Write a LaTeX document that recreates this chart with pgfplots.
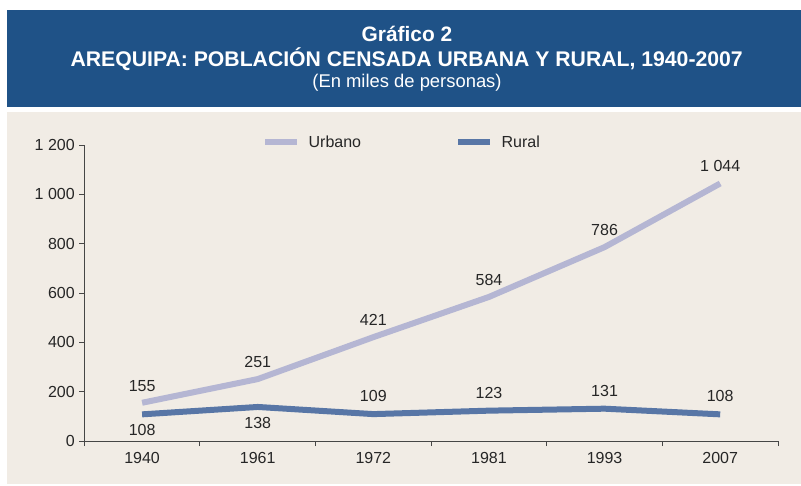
\documentclass[border=0pt]{standalone}
\usepackage{fontspec}
\setmainfont{Liberation Sans}
\usepackage{pgfplots}
\pgfplotsset{compat=1.18}
\definecolor{hdr}{RGB}{31,82,135}
\definecolor{bg}{RGB}{241,236,229}
\definecolor{urb}{RGB}{181,182,211}
\definecolor{rur}{RGB}{88,118,166}
\definecolor{txt}{RGB}{38,38,38}
\definecolor{axc}{RGB}{70,70,70}
\begin{document}
\begin{tikzpicture}[x=1pt,y=1pt]
\path[use as bounding box, fill=white] (0,0) rectangle (801,485);
\fill[hdr] (7,378) rectangle (801,475);
\fill[bg] (7,1) rectangle (801,373);
\node[anchor=base, text=white, font=\fontsize{20.9}{24}\selectfont\bfseries] at (407,443.3) {Gráfico 2};
\node[anchor=base, text=white, font=\fontsize{21.2}{24}\selectfont\bfseries] at (406.7,418.3) {AREQUIPA: POBLACIÓN CENSADA URBANA Y RURAL, 1940-2007};
\node[anchor=base, text=white, font=\fontsize{18.4}{21}\selectfont] at (407,397) {(En miles de personas)};
\begin{axis}[
  at={(84.3pt,44pt)}, anchor=south west,
  scale only axis, width=693.7pt, height=296pt,
  xmin=-0.5, xmax=5.5, ymin=0, ymax=1200,
  axis x line*=bottom, axis y line*=left,
  axis line style={axc, line width=0.9pt},
  xtick={0,...,5}, xticklabels={1940,1961,1972,1981,1993,2007},
  major x tick style={draw=none},
  minor xtick={-0.5,0.5,1.5,2.5,3.5,4.5,5.5},
  minor tick length=5pt,
  minor x tick style={axc, line width=0.9pt},
  ytick={0,200,400,600,800,1000,1200},
  yticklabels={0,200,400,600,800,1 000,1 200},
  major tick length=5pt,
  tick align=outside,
  y tick style={axc, line width=0.9pt},
  tick label style={font=\fontsize{16}{19}\selectfont, text=txt},
  xticklabel style={yshift=-3pt},
  yticklabel style={xshift=-1pt},
  /pgf/number format/assume math mode=true,
  clip=false,
  legend columns=2,
  legend style={at={(0.458,1.01)}, anchor=center, draw=none, fill=none,
    font=\fontsize{16}{19}\selectfont, text=txt,
    /tikz/every odd column/.append style={column sep=6.5pt},
    /tikz/every even column/.append style={column sep=92pt}},
  legend image code/.code={\draw[#1, line width=6pt] (0pt,0pt) -- (32pt,0pt);},
  nodes near coords style={font=\fontsize{16}{19}\selectfont, text=txt},
]
\addplot[urb, line width=6pt, line join=round, mark=none,
  point meta=explicit symbolic, nodes near coords,
  nodes near coords style={anchor=center, yshift=17pt}]
  coordinates {(0,155)[155] (1,251)[251] (2,421)[421] (3,584)[584] (4,786)[786] (5,1044)[1 044]};
\addlegendentry{Urbano}
\addplot[rur, line width=6pt, line join=round, mark=none]
  coordinates {(0,108) (1,138) (2,109) (3,123) (4,131) (5,108)};
\addlegendentry{Rural}
\addplot[draw=none, mark=none, point meta=explicit symbolic, nodes near coords,
  nodes near coords style={anchor=center, yshift=-16pt}, forget plot]
  coordinates {(0,108)[108] (1,138)[138]};
\addplot[draw=none, mark=none, point meta=explicit symbolic, nodes near coords,
  nodes near coords style={anchor=center, yshift=18pt}, forget plot]
  coordinates {(2,109)[109] (3,123)[123] (4,131)[131] (5,108)[108]};
\end{axis}
\end{tikzpicture}
\end{document}
